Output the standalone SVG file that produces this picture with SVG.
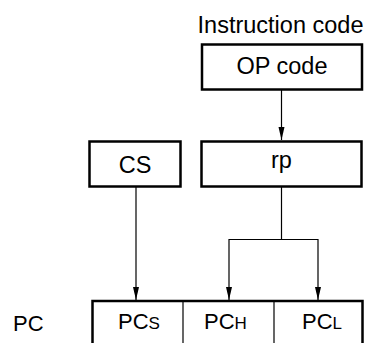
<svg xmlns="http://www.w3.org/2000/svg" width="367" height="343" viewBox="0 0 367 343">
<style>
text{font-family:"Liberation Sans",Arial,sans-serif;fill:#000}
.big{font-size:23.5px}
.pc{font-size:22px}
.sub{font-size:17px}
.box{fill:#fff;stroke:#000;stroke-width:2.5}
.ln{fill:none;stroke:#000;stroke-width:1.2}
.ah{fill:#000}
</style>
<g id="connectors">
<line class="ln" x1="281.5" y1="90" x2="281.5" y2="140"/>
<polygon class="ah" points="278.5,127 284.5,127 281.5,140"/>
<line class="ln" x1="136" y1="187" x2="136" y2="300"/>
<polygon class="ah" points="133,287 139,287 136,300"/>
<polyline class="ln" points="281.5,186 281.5,239.5"/>
<polyline class="ln" points="229,300 229,239.5 318,239.5 318,300"/>
<polygon class="ah" points="226,287 232,287 229,300"/>
<polygon class="ah" points="315,287 321,287 318,300"/>
</g>
<g id="instruction-code">
<text class="big" x="280.5" y="33" text-anchor="middle">Instruction code</text>
</g>
<g id="op-code">
<rect class="box" x="202" y="44.5" width="160" height="45"/>
<text class="big" x="282" y="74" text-anchor="middle">OP code</text>
</g>
<g id="cs">
<rect class="box" x="89.5" y="141.5" width="91" height="45"/>
<text class="big" x="135" y="173" text-anchor="middle">CS</text>
</g>
<g id="rp">
<rect class="box" x="201.5" y="141.5" width="160" height="45"/>
<text class="big" x="281.5" y="168" text-anchor="middle">rp</text>
</g>
<g id="pc-label">
<text class="pc" x="13" y="331">PC</text>
</g>
<g id="pc">
<rect class="box" x="92.5" y="301" width="270" height="60"/>
<line class="ln" x1="183" y1="302" x2="183" y2="343"/>
<line class="ln" x1="274" y1="302" x2="274" y2="343"/>
<text class="pc" x="118" y="329">PC<tspan class="sub">S</tspan></text>
<text class="pc" x="204" y="329">PC<tspan class="sub">H</tspan></text>
<text class="pc" x="302" y="329">PC<tspan class="sub">L</tspan></text>
</g>
</svg>
